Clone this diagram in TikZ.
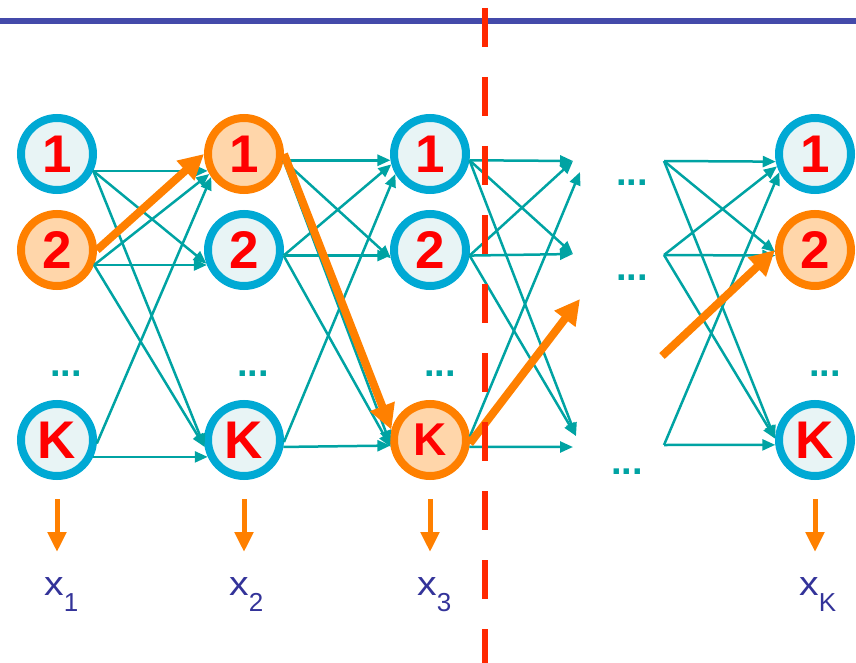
\documentclass[tikz,border=0pt]{standalone}
\usepackage{fontspec}
\setmainfont{Liberation Sans}
\usetikzlibrary{arrows.meta}

\definecolor{ringblue}{RGB}{0,169,212}
\definecolor{fillblue}{RGB}{232,244,245}
\definecolor{ringorange}{RGB}{255,128,0}
\definecolor{fillorange}{RGB}{255,214,170}
\definecolor{wireteal}{RGB}{0,163,163}
\definecolor{labelblue}{RGB}{51,51,153}
\definecolor{topblue}{RGB}{68,74,170}
\definecolor{cutred}{RGB}{255,40,0}

\tikzset{
  unit/.style={circle, draw=ringblue, fill=fillblue, line width=8pt, minimum size=72pt, inner sep=0pt,
    text=red, font=\bfseries\fontsize{53}{53}\selectfont},
  hot/.style={unit, draw=ringorange, fill=fillorange},
  wire/.style={draw=wireteal, line width=2.5pt, -{Triangle[length=13pt,width=11pt]}},
  best/.style={draw=ringorange, line width=8pt, -{Triangle[length=25pt,width=25pt]}},
  emit/.style={draw=ringorange, line width=5pt, -{Triangle[length=20pt,width=18pt]}},
  more/.style={text=wireteal, inner sep=0pt, font=\bfseries\fontsize{38}{38}\selectfont},
  obs/.style={text=labelblue, inner sep=0pt, anchor=base west, font=\fontsize{34}{34}\selectfont},
}
\newcommand{\obsx}[1]{\scalebox{1.15}[1]{x}\raisebox{-16pt}{\fontsize{26}{26}\selectfont #1}}

\begin{document}
\begin{tikzpicture}[x=1pt, y=-1pt]
  \useasboundingbox (0,0) rectangle (856,663);

  % top rule
  \draw[topblue, line width=6pt] (0,21) -- (856,21);

  % states, step 1..3
  \node[unit] (a1) at (57,154) {1};
  \node[hot]  (a2) at (57,250) {2};
  \node[more] (am) at (66,374) {...};
  \node[unit] (aK) at (57,440) {K};

  \node[hot]  (b1) at (244,154) {1};
  \node[unit] (b2) at (244,250) {2};
  \node[more] (bm) at (253,374) {...};
  \node[unit] (bK) at (244,440) {K};

  \node[unit] (c1) at (430,154) {1};
  \node[unit] (c2) at (430,250) {2};
  \node[more] (cm) at (440,374) {...};
  \node[hot, font=\bfseries\fontsize{46}{46}\selectfont] (cK) at (430,440) {K};

  % states, last step
  \node[unit] (d1) at (815,154) {1};
  \node[hot]  (d2) at (815,250) {2};
  \node[more] (dm) at (825,374) {...};
  \node[unit] (dK) at (815,440) {K};

  % skipped steps
  \node[more] (m1) at (632,183) {...};
  \node[more] (m2) at (632,278) {...};
  \node[more] (m3) at (627,472) {...};
  \coordinate (u1) at (573,161);
  \coordinate (u1x) at (580,172);
  \coordinate (u2) at (573,254);
  \coordinate (uK) at (573,447);
  \coordinate (uKx) at (576,436);
  \coordinate (v1) at (664,161);
  \coordinate (v2) at (664,255);
  \coordinate (vK) at (664,445);
  \coordinate (q1) at (580,299);
  \coordinate (q2) at (662,356);

  % transitions
  \foreach \s/\p/\t/\q in {1/-25/1/205, 1/-25/2/200, 1/-25/K/190, 2/-22/1/210,
                           2/-22/2/202, 2/-22/K/190, K/-5/1/215, K/-25/K/205}
    \draw[wire] (a\s.\p) -- (b\t.\q);
  \foreach \s/\p/\t/\q in {1/-9/1/189, 1/-9/2/192, 1/-9/K/185, 2/-8/1/195,
                           2/-8/2/188, 2/-8/K/190, K/-3/1/210, K/-10/K/188}
    \draw[wire] (b\s.\p) -- (c\t.\q);
  \foreach \s/\p/\t in {1/-9/1, 1/-9/2, 1/-9/Kx, 2/-8/1, 2/-8/2, 2/-8/Kx, K/5/1x, K/-10/K}
    \draw[wire] (c\s.\p) -- (u\t);
  \foreach \s/\t/\q in {1/1/191, 1/2/183, 1/K/178, 2/1/198, 2/2/188, 2/K/178, K/1/207, K/K/187}
    \draw[wire] (v\s) -- (d\t.\q);

  % best path
  \draw[best] (a2.east) -- (b1.west);
  \draw[best] (b1.east) -- (cK.165);
  \draw[best] (cK.-5) -- (q1);
  \draw[best] (q2) -- (d2.west);

  % observations
  \node[obs] (x1) at (44,595) {\obsx{1}};
  \node[obs] (x2) at (229,595) {\obsx{2}};
  \node[obs] (x3) at (417,595) {\obsx{3}};
  \node[obs] (xK) at (799,595) {\obsx{K}};
  \foreach \n in {a,b,c,d}
    \draw[emit] ([yshift=-19pt]\n K.south) -- ([yshift=-72pt]\n K.south);

  % cut
  \draw[cutred, line width=6pt, dash pattern=on 39pt off 30pt] (485,8) -- (485,663);
\end{tikzpicture}
\end{document}
